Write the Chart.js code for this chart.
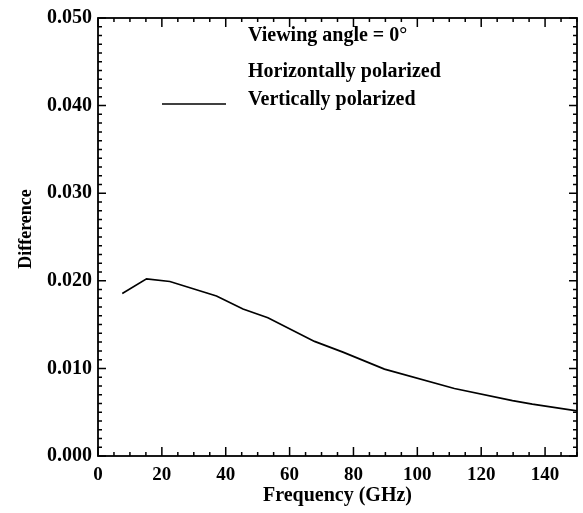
<!DOCTYPE html>
<html><head><meta charset="utf-8">
<script src="https://cdn.jsdelivr.net/npm/chart.js@4/dist/chart.umd.min.js"></script>
<style>html,body{margin:0;padding:0;background:#fff}#wrap{width:583px;height:513px}</style>
</head><body><div id="wrap"><canvas id="c" width="583" height="513"></canvas></div>
<script>
const frequency = [7.6, 15.2, 22.5, 37.1, 45.4, 53.2, 67.8, 76.7, 89.7, 111.6, 129.8, 136, 150];
const difference = [0.01856, 0.02022, 0.01992, 0.01826, 0.01678, 0.01578, 0.01308, 0.01186, 0.00992, 0.0077, 0.00633, 0.00592, 0.00515];
const xTicks = [0, 20, 40, 60, 80, 100, 120, 140];
const yTicks = [0.000, 0.010, 0.020, 0.030, 0.040, 0.050];
const legendTitle = 'Viewing angle = 0\u00B0';
const legendItems = ['Horizontally polarized', 'Vertically polarized'];
const xTitle = 'Frequency (GHz)';
const yTitle = 'Difference';

const FONT = '"Liberation Serif", "Times New Roman", serif';

const decor = {
  id: 'decor',
  afterDraw(chart) {
    const ctx = chart.ctx, a = chart.chartArea;
    const xs = chart.scales.x, ys = chart.scales.y;
    ctx.save();
    ctx.strokeStyle = '#000';
    // frame
    ctx.lineWidth = 1.8;
    ctx.strokeRect(a.left, a.top, a.right - a.left, a.bottom - a.top);
    // x ticks (bottom & top), inward
    ctx.lineWidth = 1.5;
    for (let v = 0; v <= 150; v += 5) {
      const px = xs.getPixelForValue(v);
      const L = (v % 20 === 0) ? 9 : 4;
      ctx.beginPath();
      ctx.moveTo(px, a.bottom); ctx.lineTo(px, a.bottom - L);
      ctx.moveTo(px, a.top); ctx.lineTo(px, a.top + L);
      ctx.stroke();
    }
    for (let i = 0; i <= 50; i++) {
      const py = ys.getPixelForValue(i / 1000);
      const L = (i % 10 === 0) ? 8 : 4;
      ctx.beginPath();
      ctx.moveTo(a.left, py); ctx.lineTo(a.left + L, py);
      ctx.moveTo(a.right, py); ctx.lineTo(a.right - L, py);
      ctx.stroke();
    }
    // legend
    ctx.fillStyle = '#000';
    ctx.font = 'bold 20px ' + FONT;
    ctx.textAlign = 'left';
    ctx.textBaseline = 'middle';
    ctx.fillText(legendTitle, 248, 36);
    ctx.fillText(legendItems[0], 248, 72);
    ctx.fillText(legendItems[1], 248, 100);
    ctx.lineWidth = 1.5;
    ctx.beginPath(); ctx.moveTo(162, 104); ctx.lineTo(226, 104); ctx.stroke();
    // axis titles
    ctx.textAlign = 'center';
    ctx.fillText(xTitle, (a.left + a.right) / 2, 496);
    ctx.font = 'bold 18px ' + FONT;
    ctx.translate(26, 229);
    ctx.rotate(-Math.PI / 2);
    ctx.fillText(yTitle, 0, 0);
    ctx.restore();
  }
};

new Chart(document.getElementById('c'), {
  type: 'line',
  data: {
    datasets: [{
      label: legendItems[1],
      data: frequency.map((f, i) => ({x: f, y: difference[i]})),
      borderColor: '#000',
      borderWidth: 1.7,
      pointRadius: 0,
      tension: 0,
      fill: false
    }]
  },
  options: {
    responsive: false,
    animation: false,
    devicePixelRatio: 1,
    layout: {padding: {top: 6, right: 6, left: 0, bottom: 0}},
    plugins: {legend: {display: false}, tooltip: {enabled: false}},
    scales: {
      x: {
        type: 'linear', min: 0, max: 150,
        afterFit(s) { s.height = 57; },
        afterBuildTicks(s) { s.ticks = xTicks.map(v => ({value: v})); },
        grid: {display: false, drawTicks: false},
        border: {display: false},
        ticks: {color: '#000', font: {family: FONT, size: 19, weight: 'bold'}, padding: 8, maxRotation: 0}
      },
      y: {
        type: 'linear', min: 0, max: 0.05,
        afterFit(s) { s.width = 98; },
        afterBuildTicks(s) { s.ticks = yTicks.map(v => ({value: v})); },
        grid: {display: false, drawTicks: false},
        border: {display: false},
        ticks: {color: '#000', font: {family: FONT, size: 20, weight: 'bold'}, padding: 6,
          callback: v => Number(v).toFixed(3)}
      }
    }
  },
  plugins: [decor]
});
</script></body></html>
